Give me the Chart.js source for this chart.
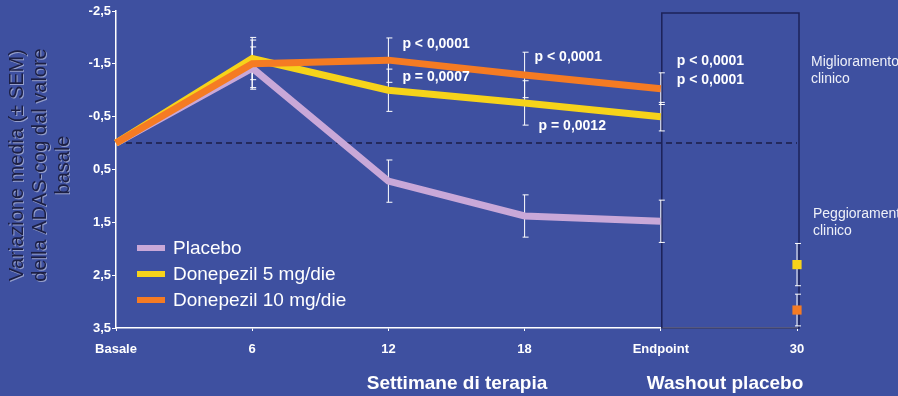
<!DOCTYPE html>
<html lang="it">
<head>
    <meta charset="UTF-8">
    <title>ADAS-cog - Donepezil vs Placebo</title>
    <script src="https://cdn.jsdelivr.net/npm/chart.js"></script>
    <style>
        html, body {
            margin: 0;
            padding: 0;
            background: #3e50a0;
        }
        #chart-container {
            width: 898px;
            height: 396px;
        }
    </style>
</head>
<body>
    <div id="chart-container">
        <canvas id="adasChart"></canvas>
    </div>

    <script>
        // Data
        var weeks = ['Basale', '6', '12', '18', 'Endpoint', '30'];
        var yTicks = [-2.5, -1.5, -0.5, 0.5, 1.5, 2.5, 3.5];

        var placebo = [0, -1.42, 0.72, 1.38, 1.48, null];
        var dose5 = [0, -1.6, -1.0, -0.76, -0.5, null];
        var dose10 = [0, -1.5, -1.57, -1.29, -1.03, null];
        var washout5 = [null, null, null, null, null, 2.3];
        var washout10 = [null, null, null, null, null, 3.16];

        // SEM for error bars
        var placeboSem = [0, 0.4, 0.4, 0.4, 0.4, null];
        var dose5Sem = [0, 0.4, 0.4, 0.42, 0.27, 0.4];
        var dose10Sem = [0, 0.45, 0.42, 0.43, 0.3, 0.3];

        var pLabels = [
            { text: 'p < 0,0001', week: 2, value: -1.87, dx: 14 },
            { text: 'p = 0,0007', week: 2, value: -1.25, dx: 14 },
            { text: 'p < 0,0001', week: 3, value: -1.62, dx: 10 },
            { text: 'p = 0,0012', week: 3, value: -0.32, dx: 14 },
            { text: 'p < 0,0001', week: 4, value: -1.55, dx: 16 },
            { text: 'p < 0,0001', week: 4, value: -1.2, dx: 16 }
        ];

        var legendItems = [
            { label: 'Placebo', color: '#c9a8d8' },
            { label: 'Donepezil 5 mg/die', color: '#f6d31a' },
            { label: 'Donepezil 10 mg/die', color: '#f57b23' }
        ];

        var FONT = '"Liberation Sans", Arial, sans-serif';

        function fmt(v) {
            return String(v).replace('.', ',');
        }

        // draws error bars, box, zero line, legend and the extra texts
        var extrasPlugin = {
            id: 'extras',
            beforeDatasetsDraw: function (chart) {
                var ctx = chart.ctx;
                var x = chart.scales.x;
                var y = chart.scales.y;
                var area = chart.chartArea;
                ctx.save();

                // dashed zero line
                ctx.strokeStyle = '#1b1d45';
                ctx.lineWidth = 1.5;
                ctx.setLineDash([6, 4]);
                ctx.beginPath();
                ctx.moveTo(area.left, y.getPixelForValue(0));
                ctx.lineTo(x.getPixelForValue(5), y.getPixelForValue(0));
                ctx.stroke();
                ctx.setLineDash([]);

                // washout box
                ctx.strokeStyle = '#1d2258';
                ctx.lineWidth = 1.5;
                var bx0 = x.getPixelForValue(4) + 1;
                var bx1 = x.getPixelForValue(5) + 2;
                ctx.strokeRect(bx0, area.top + 2, bx1 - bx0, area.bottom - area.top - 2);

                // error bars
                ctx.strokeStyle = '#ffffff';
                ctx.lineWidth = 1;
                var sets = [[placebo, placeboSem], [dose5, dose5Sem], [dose10, dose10Sem],
                    [washout5, dose5Sem], [washout10, dose10Sem]];
                sets.forEach(function (s) {
                    s[0].forEach(function (v, i) {
                        if (v === null || i === 0 || s[1][i] === null) return;
                        var px = x.getPixelForValue(i);
                        var top = y.getPixelForValue(v - s[1][i]);
                        var bot = y.getPixelForValue(v + s[1][i]);
                        ctx.beginPath();
                        ctx.moveTo(px, top);
                        ctx.lineTo(px, bot);
                        ctx.moveTo(px - 2, top);
                        ctx.lineTo(px + 4, top);
                        ctx.moveTo(px - 2, bot);
                        ctx.lineTo(px + 4, bot);
                        ctx.stroke();
                    });
                });
                ctx.restore();
            },
            afterDraw: function (chart) {
                var ctx = chart.ctx;
                var x = chart.scales.x;
                var y = chart.scales.y;
                var area = chart.chartArea;
                ctx.save();

                // p values
                ctx.fillStyle = '#ffffff';
                ctx.font = 'bold 14px ' + FONT;
                ctx.textBaseline = 'middle';
                ctx.textAlign = 'left';
                pLabels.forEach(function (p) {
                    ctx.fillText(p.text, x.getPixelForValue(p.week) + p.dx, y.getPixelForValue(p.value));
                });

                // legend inside plot
                ctx.font = '19px ' + FONT;
                legendItems.forEach(function (item, i) {
                    var ly = 248 + i * 26;
                    ctx.fillStyle = item.color;
                    ctx.fillRect(area.left + 21, ly - 3, 28, 6);
                    ctx.fillStyle = '#ffffff';
                    ctx.fillText(item.label, area.left + 57, ly + 1);
                });

                // side notes
                ctx.font = '14px ' + FONT;
                ctx.fillStyle = '#eef0f8';
                ctx.fillText('Miglioramento', 811, 62);
                ctx.fillText('clinico', 811, 79);
                ctx.fillText('Peggioramento', 813, 214);
                ctx.fillText('clinico', 813, 231);

                // x titles
                ctx.font = 'bold 19px ' + FONT;
                ctx.textAlign = 'center';
                ctx.fillStyle = '#ffffff';
                ctx.fillText('Settimane di terapia', 457, 384);
                ctx.fillText('Washout placebo', 725, 384);

                // y title
                ctx.translate(40, 165);
                ctx.rotate(-Math.PI / 2);
                ctx.font = '20px ' + FONT;
                ctx.fillStyle = '#1c1f44';
                ctx.shadowColor = 'rgba(255,255,255,0.45)';
                ctx.shadowOffsetX = 1;
                ctx.shadowOffsetY = 1;
                ctx.fillText('Variazione media (\u00b1 SEM)', 0, -23);
                ctx.fillText('della ADAS-cog dal valore', 0, 0);
                ctx.fillText('basale', 0, 23);
                ctx.restore();
            }
        };

        function lineSet(label, data, color, order) {
            return {
                label: label,
                data: data,
                borderColor: color,
                backgroundColor: color,
                borderWidth: 7,
                pointRadius: 0,
                tension: 0,
                order: order,
                spanGaps: false
            };
        }

        function squareSet(label, data, color) {
            return {
                label: label,
                data: data,
                borderColor: color,
                backgroundColor: color,
                showLine: false,
                pointStyle: 'rect',
                pointRadius: 6.5,
                borderWidth: 0,
                clip: false,
                order: 0
            };
        }

        var ctx = document.getElementById('adasChart').getContext('2d');
        var adasChart = new Chart(ctx, {
            type: 'line',
            data: {
                labels: weeks,
                datasets: [
                    lineSet('Placebo', placebo, '#c9a8d8', 3),
                    lineSet('Donepezil 5 mg/die', dose5, '#f6d31a', 2),
                    lineSet('Donepezil 10 mg/die', dose10, '#f57b23', 1),
                    squareSet('Donepezil 5 mg/die washout', washout5, '#f6d31a'),
                    squareSet('Donepezil 10 mg/die washout', washout10, '#f57b23')
                ]
            },
            options: {
                responsive: true,
                maintainAspectRatio: false,
                animation: false,
                layout: {
                    padding: { left: 0, right: 101, top: 11, bottom: 0 }
                },
                plugins: {
                    legend: { display: false },
                    tooltip: { enabled: false }
                },
                scales: {
                    x: {
                        type: 'category',
                        offset: false,
                        grid: { drawOnChartArea: false, color: '#ffffff', tickLength: 3 },
                        border: { color: '#ffffff', width: 1.5 },
                        ticks: {
                            color: '#ffffff',
                            font: { family: FONT, size: 13, weight: 'bold' },
                            padding: 11,
                            maxRotation: 0
                        },
                        afterFit: function (s) { s.height = 68; }
                    },
                    y: {
                        min: -2.5,
                        max: 3.5,
                        reverse: true,
                        afterBuildTicks: function (s) {
                            s.ticks = yTicks.map(function (v) { return { value: v }; });
                        },
                        grid: { drawOnChartArea: false, color: '#ffffff', tickLength: 4 },
                        border: { color: '#ffffff', width: 1.5 },
                        ticks: {
                            color: '#ffffff',
                            font: { family: FONT, size: 13, weight: 'bold' },
                            padding: 1,
                            callback: function (v) { return fmt(v); }
                        },
                        afterFit: function (s) { s.width = 116; }
                    }
                }
            },
            plugins: [extrasPlugin]
        });
    </script>
</body>
</html>
